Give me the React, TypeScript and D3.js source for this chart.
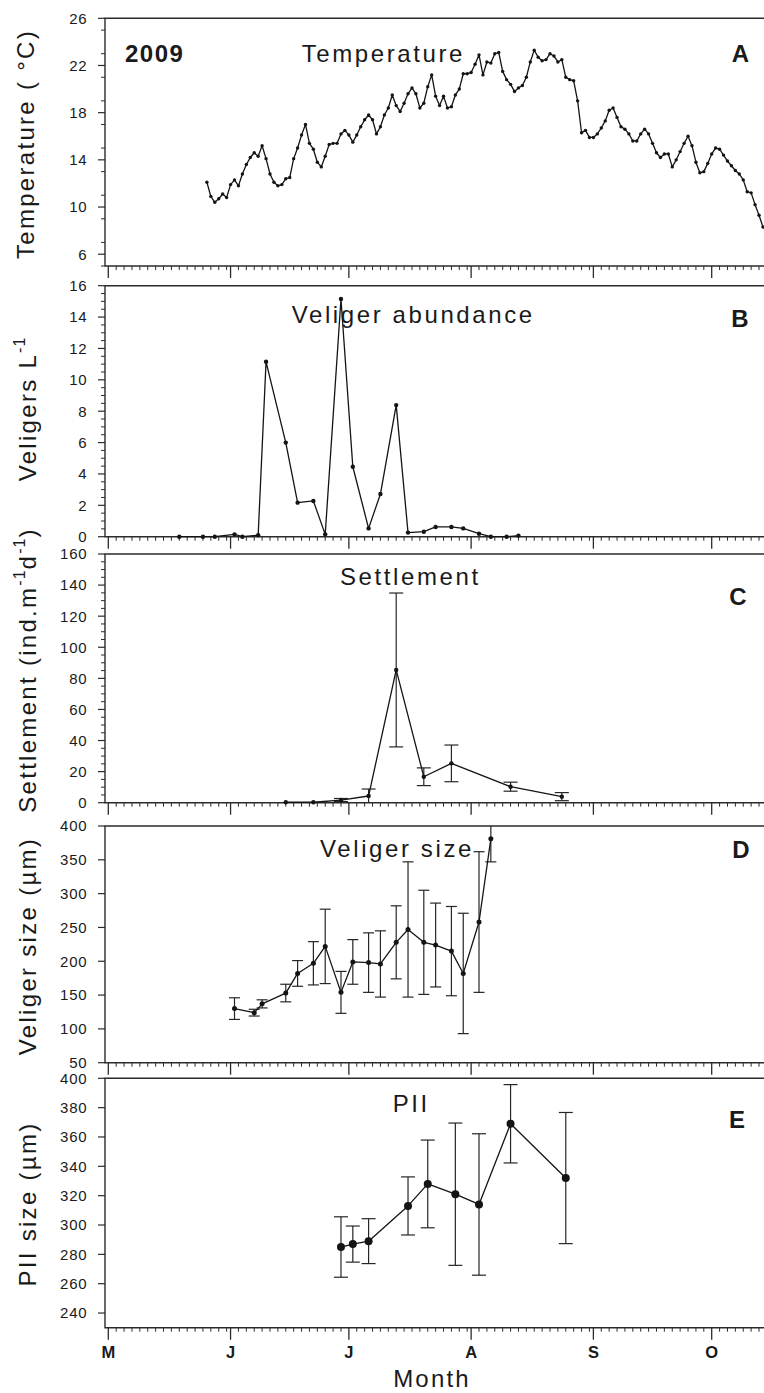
import React from "react";
import * as d3 from "d3";

// ---------------- DATA ----------------
const monthLabels = ["M", "J", "J", "A", "S", "O"];

// daily water temperature from 26 May 2009
const tempStart = "05-26";
const temperature = [
  12.1, 10.9, 10.4, 10.7, 11.1, 10.8, 11.9, 12.3, 11.8, 12.8,
  13.6, 14.2, 14.6, 14.3, 15.2, 14.1, 12.8, 12.1, 11.8, 11.9,
  12.4, 12.5, 14.1, 15.0, 16.1, 17.0, 15.4, 14.9, 13.8, 13.4,
  14.3, 15.3, 15.4, 15.4, 16.2, 16.5, 16.1, 15.5, 16.1, 16.8,
  17.4, 17.8, 17.4, 16.2, 16.8, 17.8, 18.4, 19.5, 18.6, 18.1,
  18.8, 19.6, 20.1, 19.6, 18.4, 18.8, 20.2, 21.2, 19.4, 18.6,
  19.4, 18.4, 18.5, 19.5, 20.0, 21.3, 21.3, 21.4, 22.1, 22.9, 21.2,
  22.3, 22.2, 23.0, 23.1, 21.5, 20.8, 20.4, 19.8, 20.1, 20.3,
  21.0, 22.3, 23.3, 22.7, 22.4, 22.5, 23.0, 22.8, 22.3, 22.5,
  21.0, 20.8, 20.7, 19.0, 16.3, 16.5, 15.9, 15.9, 16.2, 16.7,
  17.3, 18.2, 18.4, 17.6, 16.8, 16.6, 16.2, 15.6, 15.6, 16.2,
  16.6, 16.2, 15.4, 14.6, 14.2, 14.5, 14.5, 13.4, 14.0, 14.7,
  15.4, 16.0, 15.2, 13.8, 12.9, 13.0, 13.7, 14.5, 15.0, 14.9,
  14.4, 13.9, 13.5, 13.1, 12.8, 12.3, 11.3, 11.2, 10.2, 9.3, 8.3,
];

const veligerDates = [
  "05-19", "05-25", "05-28", "06-02", "06-04", "06-08", "06-10", "06-15",
  "06-18", "06-22", "06-25", "06-29", "07-02", "07-06", "07-09", "07-13",
  "07-16", "07-20", "07-23", "07-27", "07-30", "08-03", "08-06", "08-10", "08-13",
];
const veligerAbundance = [
  0, 0, 0, 0.15, 0, 0.1, 11.15, 6.0,
  2.17, 2.28, 0.15, 15.15, 4.46, 0.53, 2.72, 8.39,
  0.26, 0.32, 0.62, 0.62, 0.53, 0.19, 0, 0, 0.07,
];

const settlementDates = ["06-15", "06-22", "06-29", "07-06", "07-13", "07-20", "07-27", "08-11", "08-24"];
const settlementMean = [0.3, 0.3, 1.7, 4.3, 85.4, 16.7, 25.3, 10.3, 3.9];
const settlementErr = [0, 0, 1.0, 4.5, 49.5, 5.7, 11.8, 2.9, 2.6];

const sizeDates = [
  "06-02", "06-07", "06-09", "06-15", "06-18", "06-22", "06-25", "06-29",
  "07-02", "07-06", "07-09", "07-13", "07-16", "07-20", "07-23", "07-27",
  "07-30", "08-03", "08-06",
];
const sizeMean = [
  130, 124, 137, 153, 182, 197, 222, 154,
  199, 198, 196, 228, 247, 228, 224, 215,
  182, 258, 381,
];
const sizeErr = [
  16, 5, 6, 13, 19, 32, 55, 31,
  33, 44, 49, 54, 100, 77, 62, 66,
  89, 104, 34,
];

const piiDates = ["06-29", "07-02", "07-06", "07-16", "07-21", "07-28", "08-03", "08-11", "08-25"];
const piiMean = [285, 287, 289, 313, 328, 321, 314, 369, 332];
const piiErr = [20.6, 12.3, 15.3, 19.8, 29.9, 48.5, 48.2, 26.7, 44.7];

const tempTicks = [6, 10, 14, 18, 22, 26];
const veligerTicks = [0, 2, 4, 6, 8, 10, 12, 14, 16];
const settlementTicks = [0, 20, 40, 60, 80, 100, 120, 140, 160];
const sizeTicks = [50, 100, 150, 200, 250, 300, 350, 400];
const piiTicks = [240, 260, 280, 300, 320, 340, 360, 380, 400];

// ---------------- LAYOUT ----------------
const W = 764;
const H = 1393;
const X0 = 105;
const X1 = 772;
const FONT = "'Liberation Sans', Arial, Helvetica, sans-serif";
const INK = "#1a1a1a";
const AX = "#2b2b2b";

const parse = (s: string) => d3.timeParse("%Y-%m-%d")("2009-" + s) as Date;

const x = d3
  .scaleTime()
  .domain([new Date(2009, 4, 1), new Date(2009, 9, 1)])
  .range([108.3, 711.7]);

const monthTicks = d3.timeMonth.range(new Date(2009, 4, 1), new Date(2009, 9, 2));
const minorDays = d3.timeDay
  .every(2)!
  .range(new Date(2009, 3, 25), new Date(2009, 9, 20))
  .filter((d) => d.getDate() !== 1 && x(d) >= X0 && x(d) <= W + 2);

type PanelDef = {
  top: number;
  bottom: number;
  domain: [number, number];
  majors: number[];
  minorStep: number | null;
};

function Frame({ p, y, labels }: { p: PanelDef; y: d3.ScaleLinear<number, number>; labels: boolean }) {
  const minors =
    p.minorStep == null
      ? []
      : d3.range(p.domain[0], p.domain[1] + 1e-9, p.minorStep).filter(
          (v) => !p.majors.some((m) => Math.abs(m - v) < 1e-9)
        );
  return (
    <g>
      <path
        d={`M${X1},${p.top}H${X0}V${p.bottom}H${X1}`}
        fill="none"
        stroke={AX}
        strokeWidth={1.4}
      />
      {p.majors.map((v) => (
        <g key={"M" + v}>
          <line x1={X0 - 7} x2={X0} y1={y(v)} y2={y(v)} stroke={AX} strokeWidth={1.2} />
          <text
            x={87.5}
            y={y(v)}
            dy="0.36em"
            textAnchor="end"
            fontSize={15}
            letterSpacing={0.8}
            fill={INK}
          >
            {v}
          </text>
        </g>
      ))}
      {minors.map((v) => (
        <line key={"m" + v} x1={X0 - 4} x2={X0} y1={y(v)} y2={y(v)} stroke={AX} strokeWidth={1} />
      ))}
      {monthTicks.map((d, i) => (
        <g key={"xm" + i}>
          <line x1={x(d)} x2={x(d)} y1={p.bottom} y2={p.bottom + 12} stroke={AX} strokeWidth={1.3} />
          {labels && (
            <text
              x={x(d)}
              y={p.bottom + 30.5}
              textAnchor="middle"
              fontSize={16.5}
              fontWeight="bold"
              fill={INK}
            >
              {monthLabels[i]}
            </text>
          )}
        </g>
      ))}
      {minorDays.map((d, i) => (
        <line key={"xd" + i} x1={x(d)} x2={x(d)} y1={p.bottom} y2={p.bottom + 4} stroke={AX} strokeWidth={1} />
      ))}
    </g>
  );
}

function ErrorBars({
  dates,
  mean,
  err,
  y,
  domain,
  half,
}: {
  dates: Date[];
  mean: number[];
  err: number[];
  y: d3.ScaleLinear<number, number>;
  domain: [number, number];
  half: number;
}) {
  return (
    <g stroke="#262626" strokeWidth={1.2}>
      {dates.map((d, i) => {
        if (!err[i]) return null;
        const cx = x(d);
        const hiV = mean[i] + err[i];
        const loV = mean[i] - err[i];
        const hi = Math.min(hiV, domain[1]);
        const lo = Math.max(loV, domain[0]);
        return (
          <g key={i}>
            <line x1={cx} x2={cx} y1={y(lo)} y2={y(hi)} />
            {hiV <= domain[1] && <line x1={cx - half} x2={cx + half} y1={y(hi)} y2={y(hi)} />}
            {loV >= domain[0] && <line x1={cx - half} x2={cx + half} y1={y(lo)} y2={y(lo)} />}
          </g>
        );
      })}
    </g>
  );
}

function Series({
  dates,
  values,
  y,
  r,
}: {
  dates: Date[];
  values: number[];
  y: d3.ScaleLinear<number, number>;
  r: number;
}) {
  const line = d3
    .line<number>()
    .x((_, i) => x(dates[i]))
    .y((v) => y(v));
  return (
    <g>
      <path d={line(values) || ""} fill="none" stroke="#141414" strokeWidth={1.3} strokeLinejoin="round" />
      {values.map((v, i) => (
        <circle key={i} cx={x(dates[i])} cy={y(v)} r={r} fill="#141414" />
      ))}
    </g>
  );
}

export default function App() {
  const pA: PanelDef = { top: 18.3, bottom: 266, domain: [5, 26], majors: tempTicks, minorStep: 2 };
  const pB: PanelDef = { top: 285.7, bottom: 536.7, domain: [0, 16], majors: veligerTicks, minorStep: 0.5 };
  const pC: PanelDef = { top: 554, bottom: 802.7, domain: [0, 160], majors: settlementTicks, minorStep: 5 };
  const pD: PanelDef = { top: 826, bottom: 1062.7, domain: [50, 400], majors: sizeTicks, minorStep: null };
  const pE: PanelDef = { top: 1078.3, bottom: 1327.7, domain: [230, 400], majors: piiTicks, minorStep: null };

  const ys = [pA, pB, pC, pD, pE].map((p) =>
    d3.scaleLinear().domain(p.domain).range([p.bottom, p.top])
  );
  const [yA, yB, yC, yD, yE] = ys;

  const tStart = parse(tempStart);
  const tempDates = temperature.map((_, i) => d3.timeDay.offset(tStart, i));
  const vDates = veligerDates.map(parse);
  const sDates = settlementDates.map(parse);
  const zDates = sizeDates.map(parse);
  const eDates = piiDates.map(parse);

  const titleProps = { fontSize: 24, letterSpacing: 2.6, fill: INK };
  const letterProps = { fontSize: 24, fontWeight: "bold" as const, textAnchor: "middle" as const, fill: INK };
  const yTitle = { fontSize: 24, letterSpacing: 2.3, fill: INK, textAnchor: "middle" as const };

  return (
    <svg
      width={W}
      height={H}
      viewBox={`0 0 ${W} ${H}`}
      style={{ position: "absolute", left: 0, top: 0, background: "#fff" }}
      fontFamily={FONT}
    >
      <rect x={0} y={0} width={W} height={H} fill="#fff" />

      {/* Panel A */}
      <Frame p={pA} y={yA} labels={false} />
      <Series dates={tempDates} values={temperature} y={yA} r={1.7} />
      <text x={125} y={61.7} fontSize={24} fontWeight="bold" letterSpacing={1.5} fill={INK}>
        2009
      </text>
      <text x={301.7} y={61.7} {...titleProps}>Temperature</text>
      <text x={740.5} y={61.7} {...letterProps}>A</text>
      <text transform="translate(34,144) rotate(-90)" {...yTitle}>
        Temperature ( °C)
      </text>

      {/* Panel B */}
      <Frame p={pB} y={yB} labels={false} />
      <Series dates={vDates} values={veligerAbundance} y={yB} r={2.2} />
      <text x={291.7} y={322.7} {...titleProps}>Veliger abundance</text>
      <text x={740} y={326.7} {...letterProps}>B</text>
      <text transform="translate(36,409) rotate(-90)" {...yTitle}>
        Veligers L<tspan fontSize={16} dy={-11} letterSpacing={1}>-1</tspan>
      </text>

      {/* Panel C */}
      <Frame p={pC} y={yC} labels={false} />
      <ErrorBars dates={sDates} mean={settlementMean} err={settlementErr} y={yC} domain={pC.domain} half={7} />
      <Series dates={sDates} values={settlementMean} y={yC} r={2.2} />
      <text x={340} y={585} {...titleProps}>Settlement</text>
      <text x={738} y={605} {...letterProps}>C</text>
      <text transform="translate(36,670) rotate(-90)" {...yTitle}>
        Settlement (ind.m<tspan fontSize={16} dy={-11} letterSpacing={1}>-1</tspan>
        <tspan dy={11}>d</tspan>
        <tspan fontSize={16} dy={-11} letterSpacing={1}>-1</tspan>
        <tspan dy={11}>)</tspan>
      </text>

      {/* Panel D */}
      <Frame p={pD} y={yD} labels={false} />
      <ErrorBars dates={zDates} mean={sizeMean} err={sizeErr} y={yD} domain={pD.domain} half={5.5} />
      <Series dates={zDates} values={sizeMean} y={yD} r={2.5} />
      <text x={320} y={856.7} {...titleProps}>Veliger size</text>
      <text x={741} y={858} {...letterProps}>D</text>
      <text transform="translate(36,946) rotate(-90)" {...yTitle}>
        Veliger size (µm)
      </text>

      {/* Panel E */}
      <Frame p={pE} y={yE} labels={true} />
      <ErrorBars dates={eDates} mean={piiMean} err={piiErr} y={yE} domain={pE.domain} half={7} />
      <Series dates={eDates} values={piiMean} y={yE} r={4} />
      <text x={392.7} y={1112} {...titleProps}>PII</text>
      <text x={737} y={1128} {...letterProps}>E</text>
      <text transform="translate(36,1204) rotate(-90)" {...yTitle}>
        PII size (µm)
      </text>

      <text x={432} y={1386.5} fontSize={24} letterSpacing={2.2} textAnchor="middle" fill={INK}>
        Month
      </text>
    </svg>
  );
}
